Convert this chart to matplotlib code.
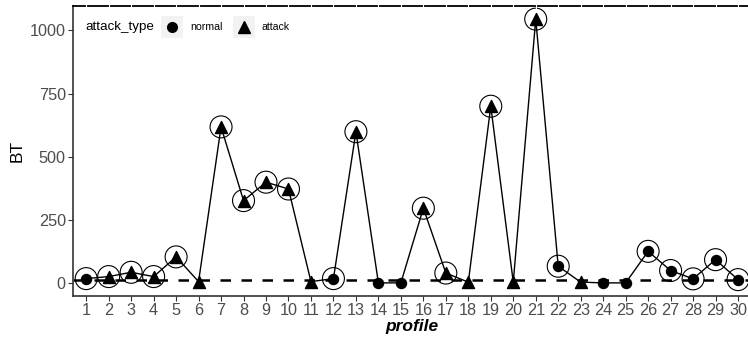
import matplotlib
matplotlib.use("Agg")
import matplotlib.pyplot as plt
import matplotlib.transforms as mtransforms
from matplotlib.lines import Line2D
from matplotlib.patches import Rectangle
import numpy as np

plt.rcParams["font.family"] = ["Liberation Sans", "DejaVu Sans"]

# data
profile = list(range(1, 31))
bt = [17, 25, 42, 25, 103, 5, 618, 326, 399, 372,
      5, 17, 599, 0, 0, 296, 39, 3, 700, 3,
      1045, 66, 3, 0, 0, 125, 49, 16, 92, 13]
attack_type = ["normal", "attack", "attack", "attack", "attack", "attack", "attack", "attack", "attack", "attack",
               "attack", "normal", "attack", "normal", "normal", "attack", "attack", "attack", "attack", "attack",
               "attack", "normal", "attack", "normal", "normal", "normal", "normal", "normal", "normal", "normal"]
flagged = [1, 1, 1, 1, 1, 0, 1, 1, 1, 1,
           0, 1, 1, 0, 0, 1, 1, 0, 1, 0,
           1, 1, 0, 0, 0, 1, 1, 1, 1, 1]
threshold = 10

x = np.array(profile)
y = np.array(bt)
atk = np.array(attack_type)
flg = np.array(flagged, dtype=bool)

fig = plt.figure(figsize=(7.48, 3.39), dpi=100)
ax = fig.add_axes([0.0972, 0.1268, 0.9075, 0.8555])

ax.axhline(threshold, color="black", lw=1.8, dashes=(4.2, 4.2), zorder=1)
ax.plot(x, y, color="black", lw=1.0, zorder=2)
ax.scatter(x[atk == "normal"], y[atk == "normal"], marker="o", s=52, color="black", zorder=3)
ax.scatter(x[atk == "attack"], y[atk == "attack"], marker="^", s=75, color="black", zorder=3)
ax.scatter(x[flg], y[flg], marker="o", s=250, facecolors="none", edgecolors="black", linewidths=0.8, zorder=4)

ax.set_xlim(0.4, 30.6)
ax.set_ylim(-52, 1097)
ax.set_xticks(profile)
ax.set_yticks([0, 250, 500, 750, 1000])

grey = "#4D4D4D"
ax.tick_params(axis="both", colors="#333333", labelcolor=grey, labelsize=11.7, length=3.5, width=0.8, pad=1.5)
ax.spines["right"].set_visible(False)
ax.spines["left"].set_color("#333333")
ax.spines["bottom"].set_color("#333333")
ax.spines["left"].set_linewidth(1.2)
ax.spines["bottom"].set_linewidth(1.2)
ax.spines["top"].set_color("black")
ax.spines["top"].set_linewidth(1.3)

# small white breaks in the top line at every x tick
trans = mtransforms.blended_transform_factory(ax.transData, ax.transAxes)
ax.vlines(profile, 0.985, 1.015, transform=trans, color="white", lw=0.8, clip_on=False, zorder=5)

ax.set_ylabel("BT", fontsize=12.5, color="black", labelpad=4)
ax.set_xlabel("profile", fontsize=12.5, fontweight="bold", fontstyle="italic", color="black", labelpad=1)

# legend built by hand, laid out in one row like ggplot's
fig.text(85 / 748, 1 - 27 / 339, "attack_type", fontsize=9.6, va="center", ha="left")
key_y = 1 - 27 / 339
for kx, mk, ms, lab in [(161, "o", 7, "normal"), (233, "^", 9, "attack")]:
    fig.add_artist(Rectangle((kx / 748, 1 - 38 / 339), 22 / 748, 22 / 339,
                             transform=fig.transFigure, facecolor="#F2F2F2", edgecolor="none"))
    fig.add_artist(Line2D([(kx + 11) / 748], [key_y], marker=mk, markersize=ms, color="black",
                          linestyle="none", transform=fig.transFigure))
    fig.text((kx + 29) / 748, key_y, lab, fontsize=7.6, va="center", ha="left")

fig.savefig("out.png", dpi=100)
